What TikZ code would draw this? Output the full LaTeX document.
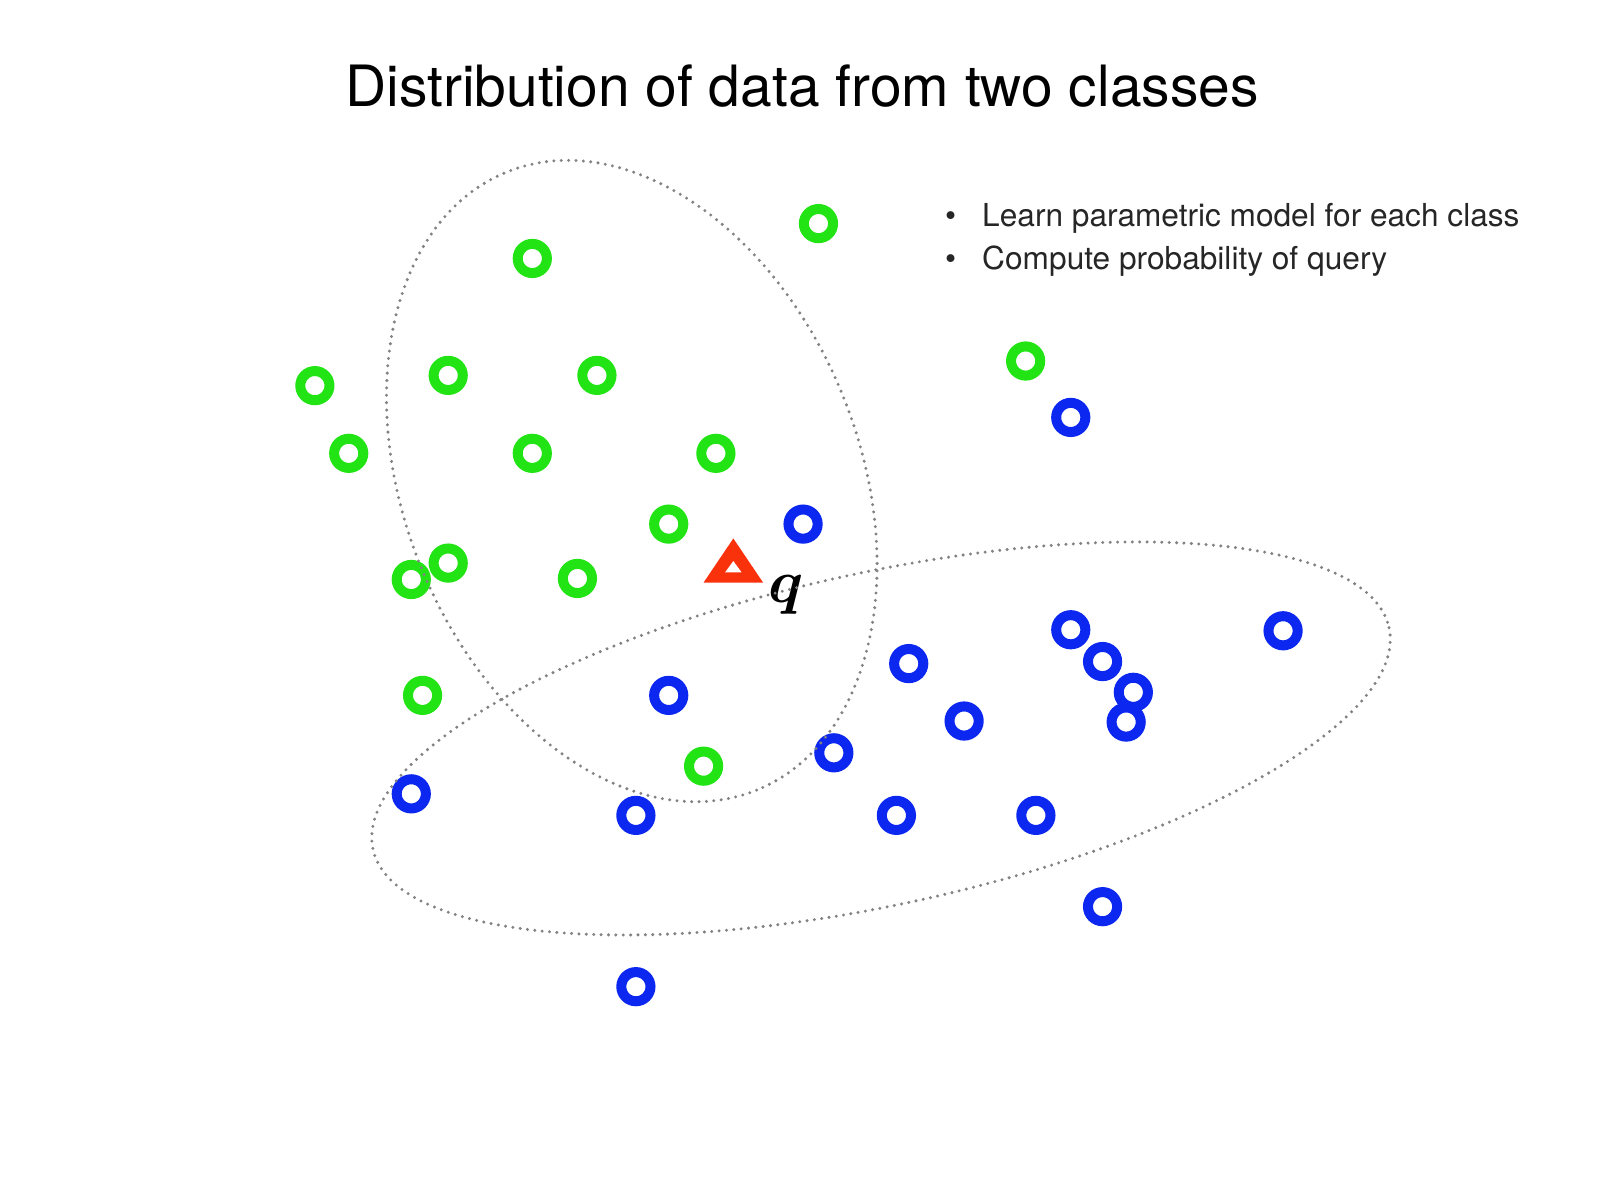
\documentclass[tikz,border=0pt]{standalone}
\usepackage{amsmath}
\usepackage{fontspec}
\setmainfont{TeX Gyre Heros}

\definecolor{ptgreen}{RGB}{34,228,20}
\definecolor{ptblue}{RGB}{12,40,240}
\definecolor{qred}{RGB}{250,50,12}
\definecolor{ringgray}{RGB}{130,130,130}

\tikzset{
	greenpt/.style={circle, draw=ptgreen, line width=2.85pt, minimum size=8.3pt, inner sep=0pt},
	bluept/.style={circle, draw=ptblue, line width=2.85pt, minimum size=8.3pt, inner sep=0pt},
	classring/.style={draw=ringgray, line width=0.95pt, line cap=round, dash pattern=on 0pt off 2.1pt},
}

\begin{document}
\begin{tikzpicture}[x=0.010256cm, y=-0.010256cm]

		\useasboundingbox (0,0) rectangle (1560,1170);

		\node[anchor=base, font=\fontsize{16.2}{19}\selectfont] (title) at (782,104)
            {Distribution of data from two classes};

		\node[anchor=base, font=\fontsize{9}{11}\selectfont, text=black!85] (b1) at (927,221) {\textbullet};
		\node[anchor=base west, font=\fontsize{9}{11}\selectfont, inner sep=0pt, text=black!85] (l1) at (957,221)
            {Learn parametric model for each class};
		\node[anchor=base, font=\fontsize{9}{11}\selectfont, text=black!85] (b2) at (927,263) {\textbullet};
		\node[anchor=base west, font=\fontsize{9}{11}\selectfont, inner sep=0pt, text=black!85] (l2) at (957,263)
            {Compute probability of query};

		% class one
		\foreach \x/\y [count=\i] in {798/218, 519/252, 307/376, 437/366, 582/366, 1000/352,
            340/442, 519/442, 698/442, 652/511, 437/549, 401/565, 563/564, 412/678, 686/747}
			\node[greenpt] (g\i) at (\x,\y) {};

		% class two
		\foreach \x/\y [count=\i] in {1044/407, 783/511, 1044/614, 1251/615, 1075/645, 886/647,
            1098/704, 1105/675, 652/678, 940/703, 813/734, 401/774, 620/795, 874/795,
            1010/795, 1075/884, 620/962}
			\node[bluept] (b\i) at (\x,\y) {};

		% query
		\fill[qred] (715,525) -- (744,568) -- (686,568) -- cycle;
		\fill[white] (715,547) -- (723,558) -- (707,558) -- cycle;
		\node[font=\fontsize{16.5}{18}\selectfont] (q) at (766,580) {$\boldsymbol{q}$};

		\draw[classring, shift={(616,469)}, rotate=-68] (0,0) ellipse [x radius=325, y radius=222];
		\draw[classring, shift={(859,720)}, rotate=12.3] (0,0) ellipse [x radius=507, y radius=162];
	\end{tikzpicture}
\end{document}
